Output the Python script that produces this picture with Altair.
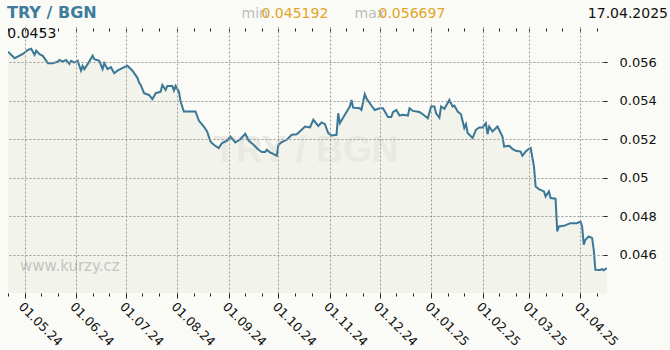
import altair as alt
import pandas as pd

# ---- data (days counted from 2024-05-01) ----
day_offsets = [
    -10, -6, -1, 2, 4, 6, 7, 9, 11, 14, 17, 20, 21, 23, 25, 27, 28, 30, 32, 34,
    35, 36, 38, 41, 42, 45, 47, 48, 50, 52, 54, 56, 60, 62, 65, 68, 69, 70, 72, 75,
    77, 79, 82, 83, 85, 86, 89, 90, 91, 93, 94, 96, 97, 103, 105, 108, 110, 112, 114, 117,
    119, 122, 124, 127, 130, 133, 135, 138, 141, 143, 145, 146, 148, 149, 152, 153, 155, 158, 161, 164,
    167, 169, 172, 174, 177, 179, 181, 183, 185, 188, 189, 190, 193, 196, 197, 198, 202, 203, 205, 206,
    209, 211, 214, 216, 219, 221, 222, 224, 226, 228, 231, 232, 234, 238, 240, 243, 245, 247, 248, 250,
    251, 253, 256, 258, 259, 261, 263, 265, 266, 267, 270, 272, 274, 276, 278, 279, 280, 282, 285, 288,
    289, 292, 294, 296, 299, 300, 302, 304, 305, 307, 308, 310, 313, 314, 316, 317, 320, 321, 322, 325,
    329, 333, 335, 336, 337, 338, 340, 342, 343, 344, 347, 348, 349, 351,
]
rates = [
    0.05655, 0.05621, 0.05643, 0.05664, 0.05670, 0.05638, 0.05660, 0.05642, 0.05633, 0.05595,
    0.05595, 0.05603, 0.05612, 0.05603, 0.05612, 0.05591, 0.05607, 0.05598, 0.05608, 0.05556,
    0.05581, 0.05564, 0.05590, 0.05634, 0.05616, 0.05607, 0.05564, 0.05595, 0.05564, 0.05574,
    0.05543, 0.05556, 0.05574, 0.05582, 0.05556, 0.05519, 0.05494, 0.05482, 0.05439, 0.05430,
    0.05408, 0.05439, 0.05447, 0.05482, 0.05456, 0.05477, 0.05477, 0.05453, 0.05477, 0.05447,
    0.05396, 0.05344, 0.05344, 0.05344, 0.05297, 0.05266, 0.05240, 0.05188, 0.05171, 0.05154,
    0.05180, 0.05192, 0.05214, 0.05183, 0.05200, 0.05228, 0.05193, 0.05171, 0.05145, 0.05133,
    0.05133, 0.05145, 0.05131, 0.05128, 0.05114, 0.05171, 0.05185, 0.05197, 0.05223, 0.05226,
    0.05249, 0.05266, 0.05261, 0.05301, 0.05269, 0.05287, 0.05278, 0.05232, 0.05219, 0.05223,
    0.05335, 0.05283, 0.05327, 0.05370, 0.05404, 0.05364, 0.05361, 0.05352, 0.05434, 0.05413,
    0.05375, 0.05352, 0.05361, 0.05361, 0.05315, 0.05315, 0.05341, 0.05352, 0.05323, 0.05327,
    0.05323, 0.05361, 0.05347, 0.05341, 0.05330, 0.05309, 0.05370, 0.05370, 0.05335, 0.05312,
    0.05370, 0.05358, 0.05404, 0.05370, 0.05375, 0.05344, 0.05330, 0.05258, 0.05278, 0.05232,
    0.05206, 0.05249, 0.05261, 0.05261, 0.05283, 0.05226, 0.05266, 0.05240, 0.05266, 0.05214,
    0.05162, 0.05166, 0.05150, 0.05140, 0.05136, 0.05114, 0.05136, 0.05150, 0.05154, 0.05058,
    0.04954, 0.04941, 0.04929, 0.04903, 0.04929, 0.04894, 0.04891, 0.04721, 0.04747, 0.04750,
    0.04764, 0.04764, 0.04773, 0.04747, 0.04652, 0.04678, 0.04695, 0.04687, 0.04626, 0.04522,
    0.04520, 0.04526, 0.04519, 0.04531,
]
y_ticks = [0.046, 0.048, 0.050, 0.052, 0.054, 0.056]
y_domain = [0.04401, 0.05783]
x_domain = ["2024-04-21", "2025-04-17"]
pair_label = "TRY / BGN"
last_label = "0.0453"
min_label = "0.045192"
max_label = "0.056697"
date_label = "17.04.2025"
site_label = "www.kurzy.cz"

# ---- build table ----
start = pd.Timestamp("2024-05-01")
dates = [(start + pd.Timedelta(days=d)).strftime("%Y-%m-%d") for d in day_offsets]
df = pd.DataFrame({"date": dates, "rate": rates})


def ms(s):
    return int(pd.Timestamp(s).value // 10**6)


tick_dates = []
for m in pd.date_range("2024-04-01", "2025-04-01", freq="MS"):
    for dd in (1, 11, 21):
        t = m + pd.Timedelta(days=dd - 1)
        if pd.Timestamp(x_domain[0]) <= t <= pd.Timestamp(x_domain[1]):
            tick_dates.append(ms(t))

FONT = "DejaVu Sans"
is_month = "utcdate(datum.value) == 1"
xscale = alt.Scale(type="utc", domain=[ms(x_domain[0]), ms(x_domain[1])], nice=False)
yscale = alt.Scale(domain=y_domain, zero=False, nice=False)

x_bottom = alt.X(
    "date:T", scale=xscale, title=None,
    axis=alt.Axis(
        orient="bottom", values=tick_dates, domain=False,
        labelExpr=f"{is_month} ? utcFormat(datum.value, '%d.%m.%y') : ''",
        labelAngle=45, labelAlign="left", labelBaseline="top", labelPadding=2,
        labelFont=FONT, labelFontSize=12.5, labelColor="#111",
        labelOverlap=False, labelFlush=False, labelBound=False,
        tickColor="#222", tickWidth=1,
        tickSize={"condition": {"test": is_month, "value": 5}, "value": 3},
        grid=True, gridColor="#999", gridDash=[2, 2], gridWidth=1,
        gridOpacity={"condition": {"test": is_month, "value": 1}, "value": 0},
        zindex=1,
    ),
)
y_right = alt.Y(
    "rate:Q", scale=yscale, title=None,
    axis=alt.Axis(
        orient="right", values=y_ticks, format=".3~f", domain=False,
        labelFont=FONT, labelFontSize=13, labelColor="#111", labelPadding=12,
        tickColor="#222", tickSize=4, offset=-4,
        grid=True, gridColor="#999", gridDash=[2, 2], gridWidth=1,
        zindex=1,
    ),
)
x_top = alt.X(
    "date:T", scale=xscale, title=None,
    axis=alt.Axis(
        orient="top", values=tick_dates, labels=False, domain=False, grid=False,
        tickColor="#222", offset=-4,
        tickSize={"condition": {"test": is_month, "value": 4}, "value": 3},
    ),
)
y_left = alt.Y(
    "rate:Q", scale=yscale, title=None,
    axis=alt.Axis(
        orient="left", values=y_ticks, labels=False, domain=False, grid=False,
        tickColor="#222", tickSize=4, offset=-5,
    ),
)

area = alt.Chart(df).mark_area(color="#f2f3ea", clip=True).encode(x=x_bottom, y=y_right)
line = alt.Chart(df).mark_line(color="#3b7796", strokeWidth=2, clip=True).encode(x=x_top, y=y_left)

ann = pd.DataFrame({"t": [0]})


def text(label, x, y, size, color, weight="normal", align="left", font=FONT):
    return alt.Chart(ann).mark_text(
        text=label, font=font, fontSize=size, fontWeight=weight, color=color,
        align=align, baseline="alphabetic",
    ).encode(x=alt.value(x), y=alt.value(y))


# positions are relative to the plot origin (8, 27)
watermark = text(pair_label, 298, 135, 37, "#e9eae3", "bold", "center", "Liberation Sans")
site = text(site_label, 12, 243.5, 15, "#c4c4c4")
title = text(pair_label, -1, -9, 16, "#3f7b9c", "bold")
min_t = text("min", 233.5, -9, 14, "#bdbdbd")
min_v = text(min_label, 253.5, -9, 14, "#e2a526")
max_t = text("max", 346.5, -9, 14, "#bdbdbd")
max_v = text(max_label, 370.5, -9, 14, "#e2a526")
date_t = text(date_label, 660, -9, 14, "#111", "normal", "right")
last_t = text(last_label, -0.7, 11.3, 14, "#111")

chart = (
    alt.layer(area, watermark, site, line, title, min_t, min_v, max_t, max_v, date_t, last_t)
    .resolve_axis(x="independent", y="independent")
    .properties(
        width=599, height=266,
        autosize=alt.AutoSizeParams(type="none"),
        padding={"left": 8, "top": 27, "right": 63, "bottom": 57},
        background="#fafbf6",
    )
    .configure_view(strokeWidth=0)
)

chart.save("out.html", embed_options={"renderer": "svg", "actions": False})
